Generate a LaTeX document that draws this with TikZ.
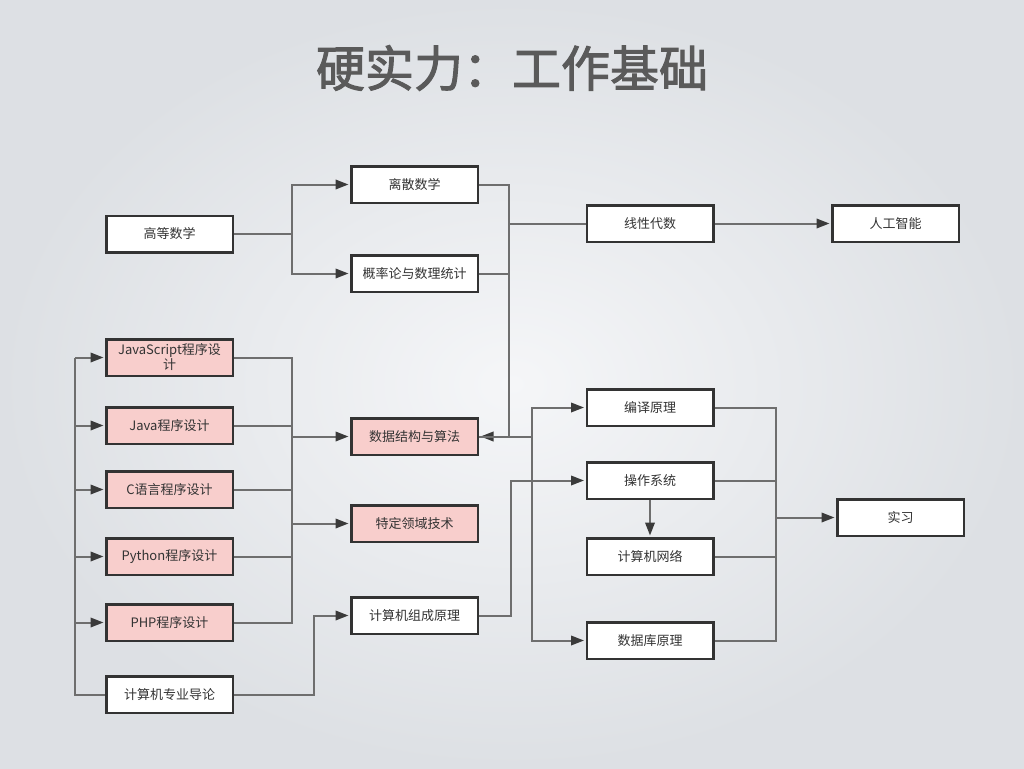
\documentclass[tikz,border=0pt]{standalone}
\usepackage{fontspec}
\setmainfont{Noto Sans CJK SC}
\newfontfamily\titlefont{Noto Sans CJK SC}[FakeBold=2]
\usetikzlibrary{arrows.meta}
\definecolor{bord}{HTML}{333333}
\definecolor{txt}{HTML}{333333}
\definecolor{pinkf}{HTML}{F8CECC}
\definecolor{linec}{HTML}{6E6E6E}
\definecolor{arrc}{HTML}{3A3A3A}
\definecolor{titlec}{HTML}{5A5A5A}
\definecolor{bgin}{HTML}{F5F6F8}
\definecolor{bgout}{HTML}{DDE0E4}
\begin{document}
\begin{tikzpicture}[x=1pt,y=-1pt,
  box/.style={draw=bord,line width=2.5pt,fill=white,minimum width=126.5pt,minimum height=36.5pt,inner sep=2pt,font=\fontsize{13}{15}\selectfont,text=txt,align=center},
  pinkbox/.style={box,fill=pinkf},
  conn/.style={draw=linec,line width=2pt},
  arr/.style={conn,shorten >=1.5pt,-{Triangle[length=13pt,width=9.5pt,color=arrc]}}]
\useasboundingbox (0,0) rectangle (1024,768);
\shade[inner color=bgin,outer color=bgout] (0,0) rectangle (1024,768);
\node[font=\titlefont\fontsize{49}{56}\selectfont,text=titlec] (title) at (512,68) {硬实力：工作基础};
% nodes
\node[box] (gdsx) at (169.5,234) {高等数学};
\node[box] (lssx) at (414.5,184.5) {离散数学};
\node[box] (gll) at (414.5,273.5) {概率论与数理统计};
\node[box] (xxds) at (650,223.5) {线性代数};
\node[box] (rgzn) at (895.5,223.5) {人工智能};
\node[pinkbox] (js) at (169.5,357.5) {JavaScript程序设\\计};
\node[pinkbox] (java) at (169.5,425.5) {Java程序设计};
\node[pinkbox] (c) at (169.5,489.5) {C语言程序设计};
\node[pinkbox] (py) at (169.5,556.5) {Python程序设计};
\node[pinkbox] (php) at (169.5,622.5) {PHP程序设计};
\node[box] (jsjdl) at (169.5,694.5) {计算机专业导论};
\node[pinkbox] (sjjg) at (414.5,436.5) {数据结构与算法};
\node[pinkbox] (tdly) at (414.5,523.5) {特定领域技术};
\node[box] (zcyl) at (414.5,615.5) {计算机组成原理};
\node[box] (bylj) at (650,407.5) {编译原理};
\node[box] (czxt) at (650,480.5) {操作系统};
\node[box] (jsjwl) at (650,556.5) {计算机网络};
\node[box] (sjkyl) at (650,640.5) {数据库原理};
\node[box] (sx) at (900.5,517.5) {实习};
% junctions
\coordinate (j1) at (292,234);
\coordinate (j2) at (509,436.5);
\coordinate (j3) at (532,436.5);
\coordinate (lt) at (75,357.5);
\coordinate (lb) at (75,694.5);
\coordinate (rb) at (292,436.5);
\coordinate (k1) at (314,694.5);
\coordinate (k2) at (511,615.5);
\coordinate (m) at (776,517.5);
% connectors
\draw[arr] (gdsx.east) -- (j1) |- (lssx.west);
\draw[arr] (j1) |- (gll.west);
\draw[conn] (lssx.east) -| (j2);
\draw[conn] (gll.east) -- (gll.east -| j2);
\draw[conn] (xxds.west) -- (xxds.west -| j2);
\draw[arr] (j2) -- (sjjg.east);
\draw[arr] (xxds) -- (rgzn);
\draw[conn] (sjjg.east) -- (j3);
\draw[arr] (j3) |- (bylj.west);
\draw[arr] (j3) |- (sjkyl.west);
\draw[conn] (jsjdl.west) -- (lb) -- (lt);
\draw[arr] (lt) -- (js.west);
\draw[arr] (java.west -| lt) -- (java.west);
\draw[arr] (c.west -| lt) -- (c.west);
\draw[arr] (py.west -| lt) -- (py.west);
\draw[arr] (php.west -| lt) -- (php.west);
\draw[conn] (js.east) -- (js.east -| rb) -- (php.east -| rb) -- (php.east);
\draw[conn] (java.east) -- (java.east -| rb);
\draw[conn] (c.east) -- (c.east -| rb);
\draw[conn] (py.east) -- (py.east -| rb);
\draw[arr] (rb) -- (sjjg.west);
\draw[arr] (tdly.west -| rb) -- (tdly.west);
\draw[arr] (jsjdl.east) -- (k1) |- (zcyl.west);
\draw[arr] (zcyl.east) -- (k2) |- (czxt.west);
\draw[arr] (czxt) -- (jsjwl);
\draw[conn] (bylj.east) -- (bylj.east -| m) -- (sjkyl.east -| m) -- (sjkyl.east);
\draw[conn] (czxt.east) -- (czxt.east -| m);
\draw[conn] (jsjwl.east) -- (jsjwl.east -| m);
\draw[arr] (m) -- (sx.west);
\end{tikzpicture}
\end{document}
